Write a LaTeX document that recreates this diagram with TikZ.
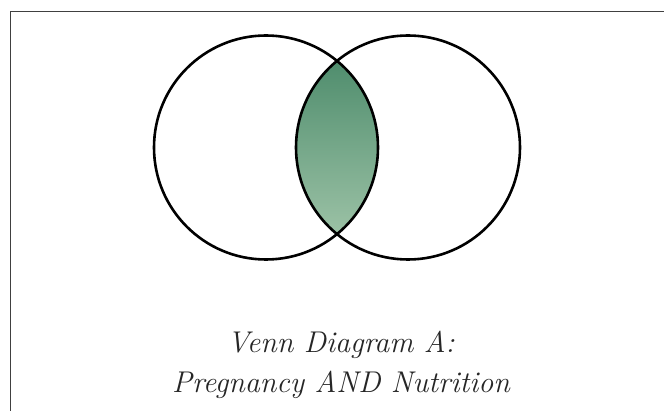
\documentclass[tikz,border=0pt]{standalone}
\tikzset{
  framestyle/.style={draw=black!75, line width=1.5pt},
  setstyle/.style={circle, draw=black, line width=2.6pt, minimum size=224pt, inner sep=0pt},
  captionstyle/.style={font=\fontsize{30}{38}\selectfont\itshape, text=black!85, align=center, inner sep=0pt}
}
\definecolor{lenstop}{HTML}{4F8D6D}
\definecolor{lensbot}{HTML}{9CC2A6}
\begin{document}
\begin{tikzpicture}[x=1pt,y=-1pt]
  \useasboundingbox (0,0) rectangle (664,411);
  \fill[white] (0,0) rectangle (664,411);
  \coordinate (frameTR) at (664,11.5);
  \coordinate (frameTL) at (10.5,11.5);
  \coordinate (frameBL) at (10.5,411);
  \draw[framestyle] (frameTR) -- (frameTL) -- (frameBL);
  % lens
  \begin{scope}
    \clip (266,147.5) circle[radius=112];
    \clip (408,147.5) circle[radius=112];
    \shade[top color=lenstop, bottom color=lensbot] (285,60) rectangle (390,235);
  \end{scope}
  \node[setstyle] (pregnancy) at (266,147.5) {};
  \node[setstyle] (nutrition) at (408,147.5) {};
  \node[captionstyle, anchor=base] (line1) at (341,353) {Venn Diagram A:};
  \node[captionstyle, anchor=base] (line2) at (341,393) {Pregnancy AND Nutrition};
\end{tikzpicture}
\end{document}
